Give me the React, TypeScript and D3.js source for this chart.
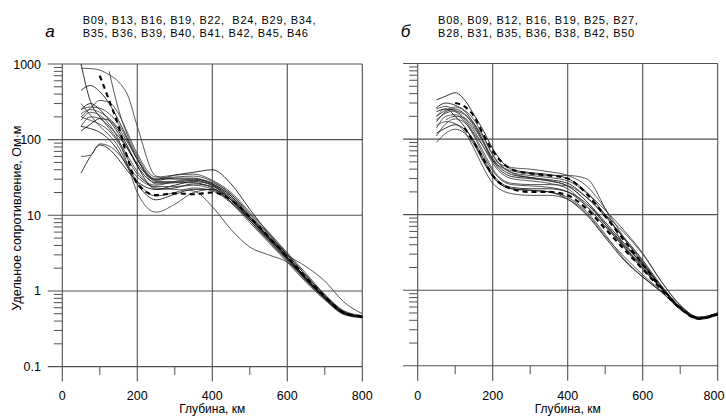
import React from 'react'
import * as d3 from 'd3'

// depth grid (km) shared by every curve
const depthKm = [50, 75, 100, 125, 150, 175, 200, 250, 300, 350, 400, 450, 500, 550, 600, 650, 700, 750, 800]

const xTicks = [0, 200, 400, 600, 800]
const xMinorTicks = [100, 300, 500, 700]
const yDecades = [0.1, 1, 10, 100, 1000]
const yTickLabels = ['0.1', '1', '10', '100', '1000']

const titleA = ['B09, B13, B16, B19, B22,  B24, B29, B34,', 'B35, B36, B39, B40, B41, B42, B45, B46']
const titleB = ['B08, B09, B12, B16, B19, B25, B27,', 'B28, B31, B35, B36, B38, B42, B50']

// panel а — resistivity, Ohm·m
const a01 = [1000, 320, 200, 150, 110, 75, 45, 27, 27, 27, 23, 16, 9, 5, 2.8, 1.5, 0.85, 0.53, 0.46]
const a02 = [880, 870, 830, 720, 580, 380, 150, 33, 30, 30, 26, 18, 9.5, 5.2, 2.8, 1.45, 0.8, 0.52, 0.46]
const a03 = [null, null, null, 800, 250, 110, 60, 30, 32, 33, 28, 19, 10, 5.5, 3.0, 1.6, 0.88, 0.53, 0.46]
const a04 = [36, 60, 85, 75, 55, 38, 28, 22, 25, 28, 25, 17, 9, 5, 2.8, 1.5, 0.84, 0.52, 0.46]
const a05 = [60, 62, 88, 82, 65, 45, 32, 24, 24, 25, 22, 15, 8.5, 4.6, 2.6, 1.4, 0.8, 0.5, 0.45]
const a06 = [180, 230, 210, 160, 100, 45, 20, 11, 14, 20, 22, 16, 9, 5, 2.7, 1.45, 0.82, 0.51, 0.45]
const a07 = [250, 300, 250, 180, 120, 75, 48, 30, 34, 37, 40, 26, 12, 5.8, 3.0, 1.6, 0.88, 0.53, 0.46]
const a08 = [150, 200, 190, 140, 95, 60, 38, 23, 22, 21, 13, 6.5, 3.8, 3.0, 2.4, 1.45, 0.82, 0.51, 0.45]
const a09 = [220, 250, 230, 190, 140, 90, 55, 28, 28, 29, 25, 17, 9.5, 5.3, 3.0, 2.1, 1.35, 0.72, 0.5]
const a10 = [450, 520, 430, 300, 180, 100, 55, 29, 31, 31, 26, 18, 9.5, 5.2, 2.8, 1.45, 0.8, 0.51, 0.45]
const a11 = [250, 270, 260, 220, 160, 95, 55, 26, 27, 29, 25, 16, 8.5, 4.6, 2.5, 1.35, 0.78, 0.5, 0.45]
const a12 = [200, 180, 160, 130, 90, 55, 35, 25, 28, 30, 27, 19, 10.5, 5.7, 3.1, 1.6, 0.88, 0.54, 0.47]
const a13 = [130, 160, 190, 180, 130, 80, 45, 22, 23, 26, 24, 16, 9, 5, 2.7, 1.45, 0.82, 0.51, 0.45]
const a14 = [300, 210, 150, 115, 80, 45, 28, 18, 20, 23, 21, 14.5, 8, 4.4, 2.4, 1.3, 0.76, 0.49, 0.44]
const a15 = [200, 260, 330, 310, 220, 120, 65, 32, 34, 35, 29, 20, 11, 6, 3.2, 1.7, 0.9, 0.55, 0.47]
const a16 = [150, 140, 125, 100, 70, 42, 26, 16, 19, 22, 22, 15, 8.5, 4.8, 2.6, 1.4, 0.8, 0.5, 0.45]
const aDashed = [null, null, 700, 330, 150, 55, 26, 18.5, 19.5, 19, 20, 16, 9.5, 5.2, 2.8, 1.5, 0.85, 0.52, 0.46]

// panel б
const b01 = [330, 370, 410, 330, 210, 130, 75, 40, 36, 34, 30, 20, 10, 4.8, 2.3, 1.1, 0.6, 0.43, 0.5]
const b02 = [200, 250, 230, 180, 120, 80, 52, 38, 35, 33, 33, 30, 12, 3.8, 1.9, 1.05, 0.58, 0.42, 0.49]
const b03 = [90, 120, 135, 120, 85, 50, 32, 22, 21, 20, 17, 11, 5.5, 2.6, 1.5, 0.95, 0.57, 0.42, 0.48]
const b04 = [170, 230, 250, 215, 150, 90, 52, 32, 30, 28, 24, 15, 8, 4.2, 2.2, 1.1, 0.6, 0.43, 0.5]
const b05 = [250, 270, 240, 190, 130, 80, 48, 30, 28, 26, 22, 13, 7, 3.7, 2.0, 1.05, 0.58, 0.42, 0.48]
const b06 = [140, 200, 210, 170, 110, 62, 38, 25, 24, 23, 20, 13, 7, 3.8, 2.1, 1.1, 0.6, 0.43, 0.5]
const b07 = [230, 250, 200, 145, 90, 52, 32, 22, 21, 20, 16, 10, 5, 2.5, 1.5, 0.95, 0.56, 0.42, 0.47]
const b08 = [180, 220, 235, 210, 160, 105, 62, 36, 31, 28, 24, 15, 7.5, 3.8, 2.0, 1.05, 0.58, 0.42, 0.48]
const b09 = [110, 160, 185, 165, 115, 68, 40, 26, 25, 25, 24, 17, 10, 5.8, 3.0, 1.3, 0.64, 0.44, 0.5]
const b10 = [260, 300, 280, 235, 160, 95, 55, 34, 31, 29, 26, 17, 9.5, 5, 2.5, 1.15, 0.6, 0.43, 0.49]
const b11 = [150, 170, 160, 125, 75, 42, 26, 19, 18, 18, 16, 10.5, 5.2, 2.8, 1.6, 0.97, 0.56, 0.41, 0.47]
const b12 = [200, 240, 265, 240, 180, 110, 62, 36, 33, 31, 28, 19.5, 11.5, 6.2, 3.1, 1.3, 0.63, 0.44, 0.5]
const b13 = [120, 140, 155, 135, 95, 56, 34, 23, 22, 22, 20, 14, 7.5, 4, 2.2, 1.1, 0.59, 0.43, 0.49]
const b14 = [null, 180, 200, 190, 140, 90, 55, 42, 40, 37, 33, 24, 12, 5, 2.4, 1.1, 0.6, 0.43, 0.5]
const bDashed1 = [null, null, 300, 270, 200, 115, 70, 40, 35, 33, 30, 19, 9.5, 4.6, 2.2, 1.08, 0.59, 0.43, 0.49]
const bDashed2 = [null, null, null, 140, 90, 55, 33, 22, 20, 20, 18, 12, 6.5, 3.5, 1.9, 1.02, 0.57, 0.42, 0.48]

const seriesA = [a01, a02, a03, a04, a05, a06, a07, a08, a09, a10, a11, a12, a13, a14, a15, a16]
const seriesB = [b01, b02, b03, b04, b05, b06, b07, b08, b09, b10, b11, b12, b13, b14]

const FONT = 'Arial, "Liberation Sans", sans-serif'
const GRID = '#505050'

type Val = number | null

const Panel = ({ left, top, bottom, series, dashed, letter, title, showY }: {
  left: number, top: number, bottom: number, series: Val[][], dashed: Val[][],
  letter: string, title: string[], showY: boolean
}) => {
  const x = d3.scaleLinear().domain([0, 800]).range([left, left + 300])
  const y = d3.scaleLog().domain([0.1, 1000]).range([bottom, top])

  const line = d3.line<Val>()
    .defined(v => v != null)
    .x((_, i) => x(depthKm[i]))
    .y(v => y(v as number))
    .curve(d3.curveMonotoneX)

  const minor: number[] = []
  yDecades.slice(0, -1).forEach(d => {
    for (let k = 2; k <= 9; k++) minor.push(d * k)
  })

  const gx0 = left - 14.6
  const xMid = x(400)

  return (
    <g>
      <text x={left - 17} y={37} fontSize={17} fontStyle="italic" fontFamily={FONT}>{letter}</text>
      {title.map((t, i) => (
        <text key={i} x={left + 20.4} y={24 + i * 12.7} fontSize={11} letterSpacing={0.7}
          fontFamily={FONT} style={{ whiteSpace: 'pre' }}>{t}</text>
      ))}

      {yDecades.map(d => (
        <line key={d} x1={gx0} x2={x(800)} y1={y(d)} y2={y(d)} stroke={GRID} strokeWidth={1.1} />
      ))}
      {xTicks.map(t => (
        <line key={t} x1={x(t)} x2={x(t)} y1={top} y2={bottom + 15} stroke={GRID} strokeWidth={1.1} />
      ))}
      {minor.map(m => (
        <line key={m} x1={left - 8.5} x2={left} y1={y(m)} y2={y(m)} stroke={GRID} strokeWidth={1} />
      ))}
      {xMinorTicks.map(t => (
        <line key={t} x1={x(t)} x2={x(t)} y1={bottom} y2={bottom + 8.3} stroke={GRID} strokeWidth={1} />
      ))}

      {showY && yDecades.map((d, i) => (
        <text key={d} x={41} y={y(d) + 4.5} textAnchor="end" fontSize={12.5} fontFamily={FONT}>{yTickLabels[i]}</text>
      ))}
      {showY && (
        <text transform={`translate(20.5, 218) rotate(-90)`} textAnchor="middle" fontSize={12.5}
          fontFamily={FONT}>Удельное сопротивление, Ом·м</text>
      )}
      {xTicks.map(t => (
        <text key={t} x={Math.min(x(t), 714)} y={399.5} textAnchor="middle" fontSize={12.5} fontFamily={FONT}>{t}</text>
      ))}
      <text x={xMid} y={413.4} textAnchor="middle" fontSize={12} fontFamily={FONT}>Глубина, км</text>

      {series.map((s, i) => (
        <path key={i} d={line(s) || ''} fill="none" stroke={i % 3 === 0 ? '#111' : '#3a3a3a'} strokeWidth={0.85} />
      ))}
      {dashed.map((s, i) => (
        <path key={i} d={line(s) || ''} fill="none" stroke="#000" strokeWidth={2.1} strokeDasharray="5 4" />
      ))}
    </g>
  )
}

export default function App() {
  return (
    <svg width={726} height={416} style={{ position: 'absolute', left: 0, top: 0, background: '#fff' }}>
      <rect width={726} height={416} fill="#fff" />
      <Panel left={62.3} top={64} bottom={366.6} series={seriesA} dashed={[aDashed]}
        letter="а" title={titleA} showY={true} />
      <Panel left={417.7} top={63.5} bottom={365.8} series={seriesB} dashed={[bDashed1, bDashed2]}
        letter="б" title={titleB} showY={false} />
    </svg>
  )
}
